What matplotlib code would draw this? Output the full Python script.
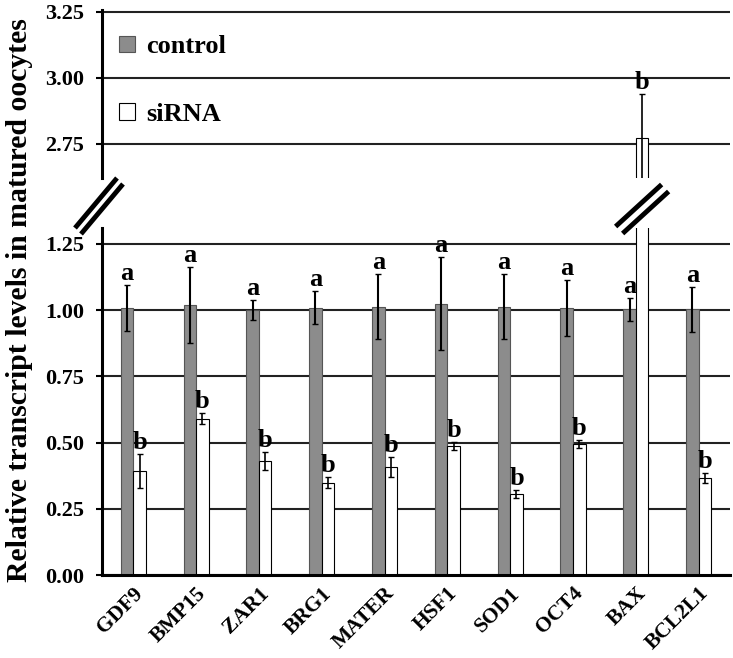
import matplotlib
matplotlib.use("Agg")
import matplotlib.pyplot as plt
import numpy as np
from matplotlib.lines import Line2D

plt.rcParams['font.family'] = ['Liberation Serif', 'DejaVu Serif']
plt.rcParams['font.weight'] = 'bold'

# data
genes = ['GDF9', 'BMP15', 'ZAR1', 'BRG1', 'MATER', 'HSF1', 'SOD1', 'OCT4', 'BAX', 'BCL2L1']
control = [1.008, 1.019, 1.000, 1.009, 1.013, 1.025, 1.013, 1.009, 1.003, 1.004]
control_err = [0.088, 0.143, 0.038, 0.063, 0.122, 0.174, 0.122, 0.105, 0.043, 0.085]
sirna = [0.393, 0.590, 0.431, 0.349, 0.408, 0.487, 0.307, 0.494, 2.773, 0.367]
sirna_err = [0.065, 0.020, 0.035, 0.020, 0.036, 0.015, 0.015, 0.016, 0.165, 0.020]
control_letters = ['a'] * 10
sirna_letters = ['b'] * 10

W, H = 733, 658
fig = plt.figure(figsize=(W / 100, H / 100), dpi=100)
ax_top = fig.add_axes([0.139, 0.7295, 0.857, 0.2553])
ax_bot = fig.add_axes([0.139, 0.126, 0.857, 0.5274])

x = np.arange(len(genes))
bw = 0.2
gray = '#8c8c8c'

for ax, ylim, ticks in [(ax_top, (2.62, 3.257), [2.75, 3.00, 3.25]),
                        (ax_bot, (0, 1.31), [0, 0.25, 0.5, 0.75, 1.0, 1.25])]:
    ax.bar(x - bw / 2, control, bw, color=gray, edgecolor='#555555', linewidth=0.8, label='control')
    ax.bar(x + bw / 2, sirna, bw, color='white', edgecolor='black', linewidth=0.8, label='siRNA')
    ax.errorbar(x - bw / 2, control, yerr=control_err, fmt='none', ecolor='black', elinewidth=1.5, capsize=2)
    ax.errorbar(x + bw / 2, sirna, yerr=sirna_err, fmt='none', ecolor='black', elinewidth=1.2, capsize=2.5)
    for i in range(len(genes)):
        for xx, v, e, t in [(x[i] - bw / 2, control[i], control_err[i], control_letters[i]),
                            (x[i] + bw / 2, sirna[i], sirna_err[i], sirna_letters[i])]:
            if ylim[0] < v + e < ylim[1]:
                ax.annotate(t, (xx, v + e), xytext=(0, 0), textcoords='offset points',
                            ha='center', va='bottom', fontsize=19)
    ax.set_xlim(-0.5, len(genes) - 0.5)
    ax.set_ylim(*ylim)
    ax.set_yticks(ticks)
    ax.set_yticklabels([f'{t:.2f}' for t in ticks], fontsize=16)
    ax.yaxis.grid(True, color='#222222', linewidth=1.5)
    ax.set_axisbelow(True)
    ax.spines['top'].set_visible(False)
    ax.spines['right'].set_visible(False)
    ax.spines['left'].set_linewidth(2.2)
    ax.tick_params(axis='y', length=4, width=1.5, pad=9)

ax_top.spines['bottom'].set_visible(False)
ax_top.set_xticks([])
ax_bot.spines['bottom'].set_linewidth(2.2)
ax_bot.set_xticks(x)
ax_bot.set_xticklabels(genes, rotation=45, ha='right', rotation_mode='anchor', fontsize=15.5)
ax_bot.tick_params(axis='x', length=0, pad=6)

handles, labels = ax_top.get_legend_handles_labels()
ax_top.legend(handles, labels, loc='upper left', bbox_to_anchor=(0.028, 0.85), frameon=False,
              fontsize=19, handlelength=0.6, handleheight=0.6, labelspacing=1.7,
              handletextpad=0.4, borderpad=0, borderaxespad=0)

fig.text(20 / W, 0.544, 'Relative transcript levels in matured oocytes', rotation=90,
         ha='center', va='center', fontsize=21.4)


# double slash break marks (pixel offsets around a centre point)
def break_mark(cx, cy, dx, dy, gap):
    for off in (-gap / 2, gap / 2):
        fig.add_artist(Line2D([(cx - dx + off) / W, (cx + dx + off) / W],
                              [1 - (cy + dy + off) / H, 1 - (cy - dy + off) / H],
                              color='black', linewidth=3.5, solid_capstyle='butt'))


break_mark(99, 206, 21, 25, 6)
bax_x = 0.139 * W + 0.857 * W * (8 + bw / 2 + 0.5) / len(genes)
break_mark(bax_x, 209, 23, 21, 7)

fig.savefig('out.png', dpi=100)
